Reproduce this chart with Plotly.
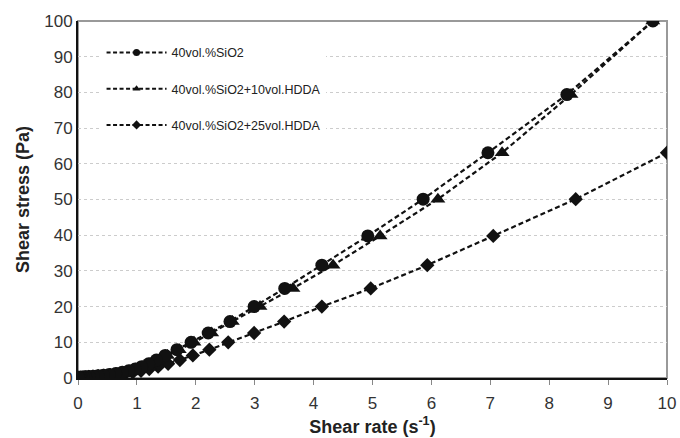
import plotly.graph_objects as go

stress = [100, 79.4, 63.1, 50.1, 39.8, 31.6, 25.1, 20.0, 15.8, 12.6, 10.0, 7.94, 6.31, 5.01, 3.98,
          3.16, 2.51, 2.0, 1.58, 1.26, 1.0, 0.79, 0.63, 0.5, 0.4, 0.32, 0.25, 0.2, 0.16, 0.13, 0.1]
stress3 = stress[2:]

rate_sio2 = [9.76, 8.30, 6.96, 5.86, 4.92, 4.14, 3.51, 2.99, 2.58, 2.21, 1.92, 1.68, 1.48, 1.33, 1.20,
             1.08, 0.97, 0.86, 0.75, 0.64, 0.53, 0.43, 0.34, 0.26, 0.19, 0.13, 0.09, 0.06, 0.04, 0.02, 0.01]
rate_hdda10 = [9.76, 8.37, 7.20, 6.11, 5.13, 4.33, 3.65, 3.09, 2.62, 2.27, 1.97, 1.72, 1.52, 1.36, 1.22,
               1.10, 0.98, 0.87, 0.76, 0.65, 0.54, 0.44, 0.35, 0.27, 0.20, 0.14, 0.09, 0.06, 0.04, 0.02, 0.01]
rate_hdda25 = [10.0, 8.45, 7.05, 5.93, 4.97, 4.14, 3.50, 2.99, 2.55, 2.23, 1.95, 1.73, 1.53, 1.36, 1.21,
               1.07, 0.93, 0.80, 0.67, 0.55, 0.44, 0.34, 0.25, 0.18, 0.12, 0.07, 0.04, 0.02, 0.01]

names = ["40vol.%SiO2", "40vol.%SiO2+10vol.HDDA", "40vol.%SiO2+25vol.HDDA"]
x_ticks = list(range(0, 11))
y_ticks = list(range(0, 101, 10))

DASH = "5px,3px"
fig = go.Figure()
series = [
    (rate_hdda25, stress3, names[2], "diamond", 11, 3),
    (rate_hdda10, stress, names[1], "triangle-up", 13, 2),
    (rate_sio2, stress, names[0], "circle", 13, 1),
]
for xs, ys, nm, sym, sz, rank in series:
    fig.add_trace(go.Scatter(
        x=xs, y=ys, name=nm, mode="lines+markers", showlegend=False,
        line=dict(color="#111111", width=2.2, dash=DASH),
        marker=dict(symbol=sym, size=sz, color="#111111"),
    ))
# legend entries with small markers, as in the reference
for xs, ys, nm, sym, sz, rank in series:
    fig.add_trace(go.Scatter(
        x=[None], y=[None], name=nm, mode="lines+markers", showlegend=True,
        line=dict(color="#111111", width=2, dash="4px,2.5px"),
        marker=dict(symbol=sym, size=7, color="#111111"),
        legendrank=rank, legendgroup=nm,
    ))

fig.add_shape(type="rect", xref="paper", yref="paper", x0=0, y0=0, x1=1, y1=1,
              line=dict(color="#999999", width=2), layer="below")

fig.update_layout(
    width=680, height=438,
    margin=dict(l=78, r=13, t=21, b=60, autoexpand=False),
    paper_bgcolor="white", plot_bgcolor="white",
    font=dict(family="Liberation Sans, Arial, sans-serif", color="#222222"),
    showlegend=True,
    legend=dict(x=0.04, y=0.953, xanchor="left", yanchor="top",
                bgcolor="white", borderwidth=0, font=dict(size=12.5, color="#222222"),
                tracegroupgap=17, itemsizing="trace", itemwidth=60),
    xaxis=dict(range=[0, 10], tickvals=x_ticks, showgrid=False, zeroline=False, automargin=False,
               showline=True, linecolor="#111111", linewidth=2,
               ticks="outside", ticklen=5, tickcolor="#888888", ticklabelstandoff=4,
               tickfont=dict(size=17, color="#333333"),
               title=dict(text="Shear rate (s<sup>-1</sup>)", font=dict(size=18, color="#222222"), standoff=8)),
    yaxis=dict(range=[0, 100], tickvals=y_ticks, showgrid=True, gridcolor="#cccccc", griddash="dot",
               gridwidth=1, zeroline=False, automargin=False,
               showline=True, linecolor="#111111", linewidth=2, ticks="",
               tickfont=dict(size=17, color="#333333"),
               title=dict(text="Shear stress (Pa)", font=dict(size=18, color="#222222"), standoff=10)),
)
fig.update_xaxes(title_font=dict(weight="bold"))
fig.update_yaxes(title_font=dict(weight="bold"))

fig.write_html("out.html")
